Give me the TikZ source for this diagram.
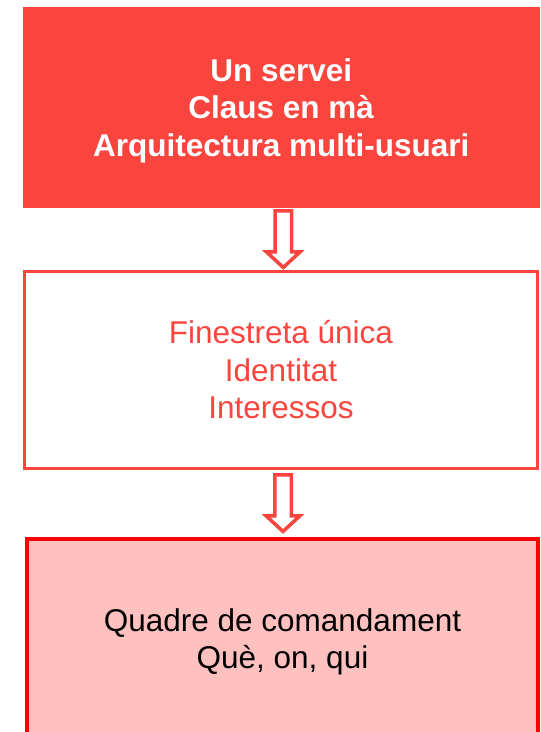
\documentclass[tikz,border=0pt]{standalone}
\usepackage{fontspec}
\setmainfont{Liberation Sans}
\usetikzlibrary{calc}

\definecolor{tomato}{RGB}{250,68,62}
\definecolor{pinkfill}{RGB}{255,192,192}
\newcommand{\bigtext}{\fontsize{31.5}{37.5}\selectfont}

% hollow block arrow pointing down, #1 = top middle
\newcommand{\hollowdown}[1]{%
  \draw[hollow] (#1) ++(-8.25,0) -- ++(16.5,0) -- ++(0,41) -- ++(8.75,0)
    -- ++(-17,15.7) -- ++(-17,-15.7) -- ++(8.75,0) -- cycle;}

\begin{document}
\begin{tikzpicture}[x=1pt,y=-1pt]
\tikzstyle{every node}=[font=\bigtext, align=center, inner sep=0pt, outer sep=0pt]
\tikzstyle{hollow}=[draw=tomato, line width=3.5pt, fill=white, line join=miter]
\useasboundingbox (0,0) rectangle (541,732);

\node[fill=tomato, text=white, font=\bigtext\bfseries, text depth=0pt,
      minimum width=517.5pt, minimum height=201pt] (servei) at (281.25,107.5)
      {Un servei\\Claus en mà\\Arquitectura multi-usuari};
\node[draw=tomato, line width=3pt, text=tomato,
      minimum width=513pt, minimum height=197pt] (finestra) at (281,370)
      {Finestreta única\\Identitat\\Interessos};
\node[draw=red, fill=pinkfill, line width=4pt, text=black,
      minimum width=511pt, minimum height=206pt] (quadre) at (282.5,642)
      {Quadre de comandament\\Què, on, qui};

\coordinate (a1) at ($(servei.south)+(2,2.75)$);
\coordinate (a2) at ($(finestra.south)+(2,6.25)$);
\hollowdown{a1}
\hollowdown{a2}

\end{tikzpicture}
\end{document}
